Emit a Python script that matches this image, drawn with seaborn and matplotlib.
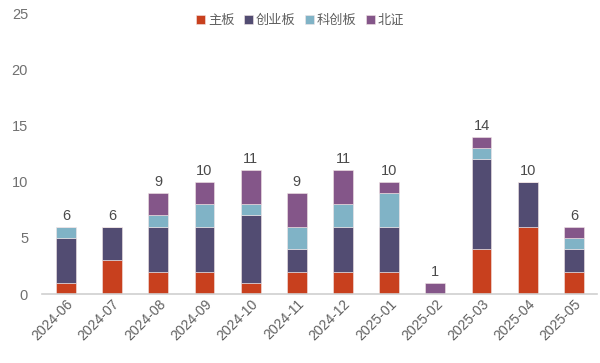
import matplotlib
matplotlib.use("Agg")
import matplotlib.pyplot as plt
import seaborn as sns
import numpy as np
import pandas as pd

months = ["2024-06", "2024-07", "2024-08", "2024-09", "2024-10", "2024-11",
          "2024-12", "2025-01", "2025-02", "2025-03", "2025-04", "2025-05"]
main_board = [1, 3, 2, 2, 1, 2, 2, 2, 0, 4, 6, 2]
chinext = [4, 3, 4, 4, 6, 2, 4, 4, 0, 8, 4, 2]
star = [1, 0, 1, 2, 1, 2, 2, 3, 0, 1, 0, 1]
bse = [0, 0, 2, 2, 3, 3, 3, 1, 1, 1, 0, 1]
series_names = ["主板", "创业板", "科创板", "北证"]
colors = ["#C8401E", "#524C72", "#80B3C6", "#845689"]

sns.set_theme(style="white")
plt.rcParams['font.family'] = ['Liberation Sans', 'Noto Sans CJK SC', 'DejaVu Sans']

fig = plt.figure(figsize=(6, 3.63), dpi=100)
ax = fig.add_axes([0.07, 0.19, 0.925, 0.774])

data = [main_board, chinext, star, bse]
bottom = np.zeros(len(months))
for name, vals, c in zip(series_names, data, colors):
    df = pd.DataFrame({"month": months, "v": vals})
    sns.barplot(data=df, x="month", y="v", color=c, width=0.43, ax=ax,
                bottom=bottom, label=name, edgecolor="#f3e6e6", linewidth=0.4,
                saturation=1)
    bottom = bottom + np.array(vals)

totals = bottom
for i, t in enumerate(totals):
    ax.text(i, t + 0.35, f"{int(t)}", ha="center", va="bottom", fontsize=10.5, color="#4a4a4a")

ax.set_ylim(0, 25)
ax.set_xlim(-0.52, len(months) - 0.5)
ax.set_yticks([0, 5, 10, 15, 20, 25])
ax.set_xlabel("")
ax.set_ylabel("")
for s in ["top", "right", "left"]:
    ax.spines[s].set_visible(False)
ax.spines["bottom"].set_color("#d0d0d0")
ax.spines["bottom"].set_linewidth(1.2)
ax.tick_params(axis="y", length=0, labelsize=10.5, labelcolor="#707070", pad=10)
ax.tick_params(axis="x", length=0, labelsize=10, labelcolor="#606060", pad=2)
ax.set_xticks(np.arange(-0.5, len(months), 1.0), minor=True)
ax.tick_params(axis="x", which="minor", length=3, color="#d0d0d0", direction="out")
plt.setp(ax.get_xticklabels(), rotation=45, ha="right", rotation_mode="anchor")

leg = ax.legend(loc="upper center", bbox_to_anchor=(0.465, 1.035), ncol=4, frameon=False,
                fontsize=9.5, handlelength=0.7, handleheight=0.7, handletextpad=0.2,
                columnspacing=0.7, labelcolor="#606060")

fig.savefig("out.png", dpi=100)
